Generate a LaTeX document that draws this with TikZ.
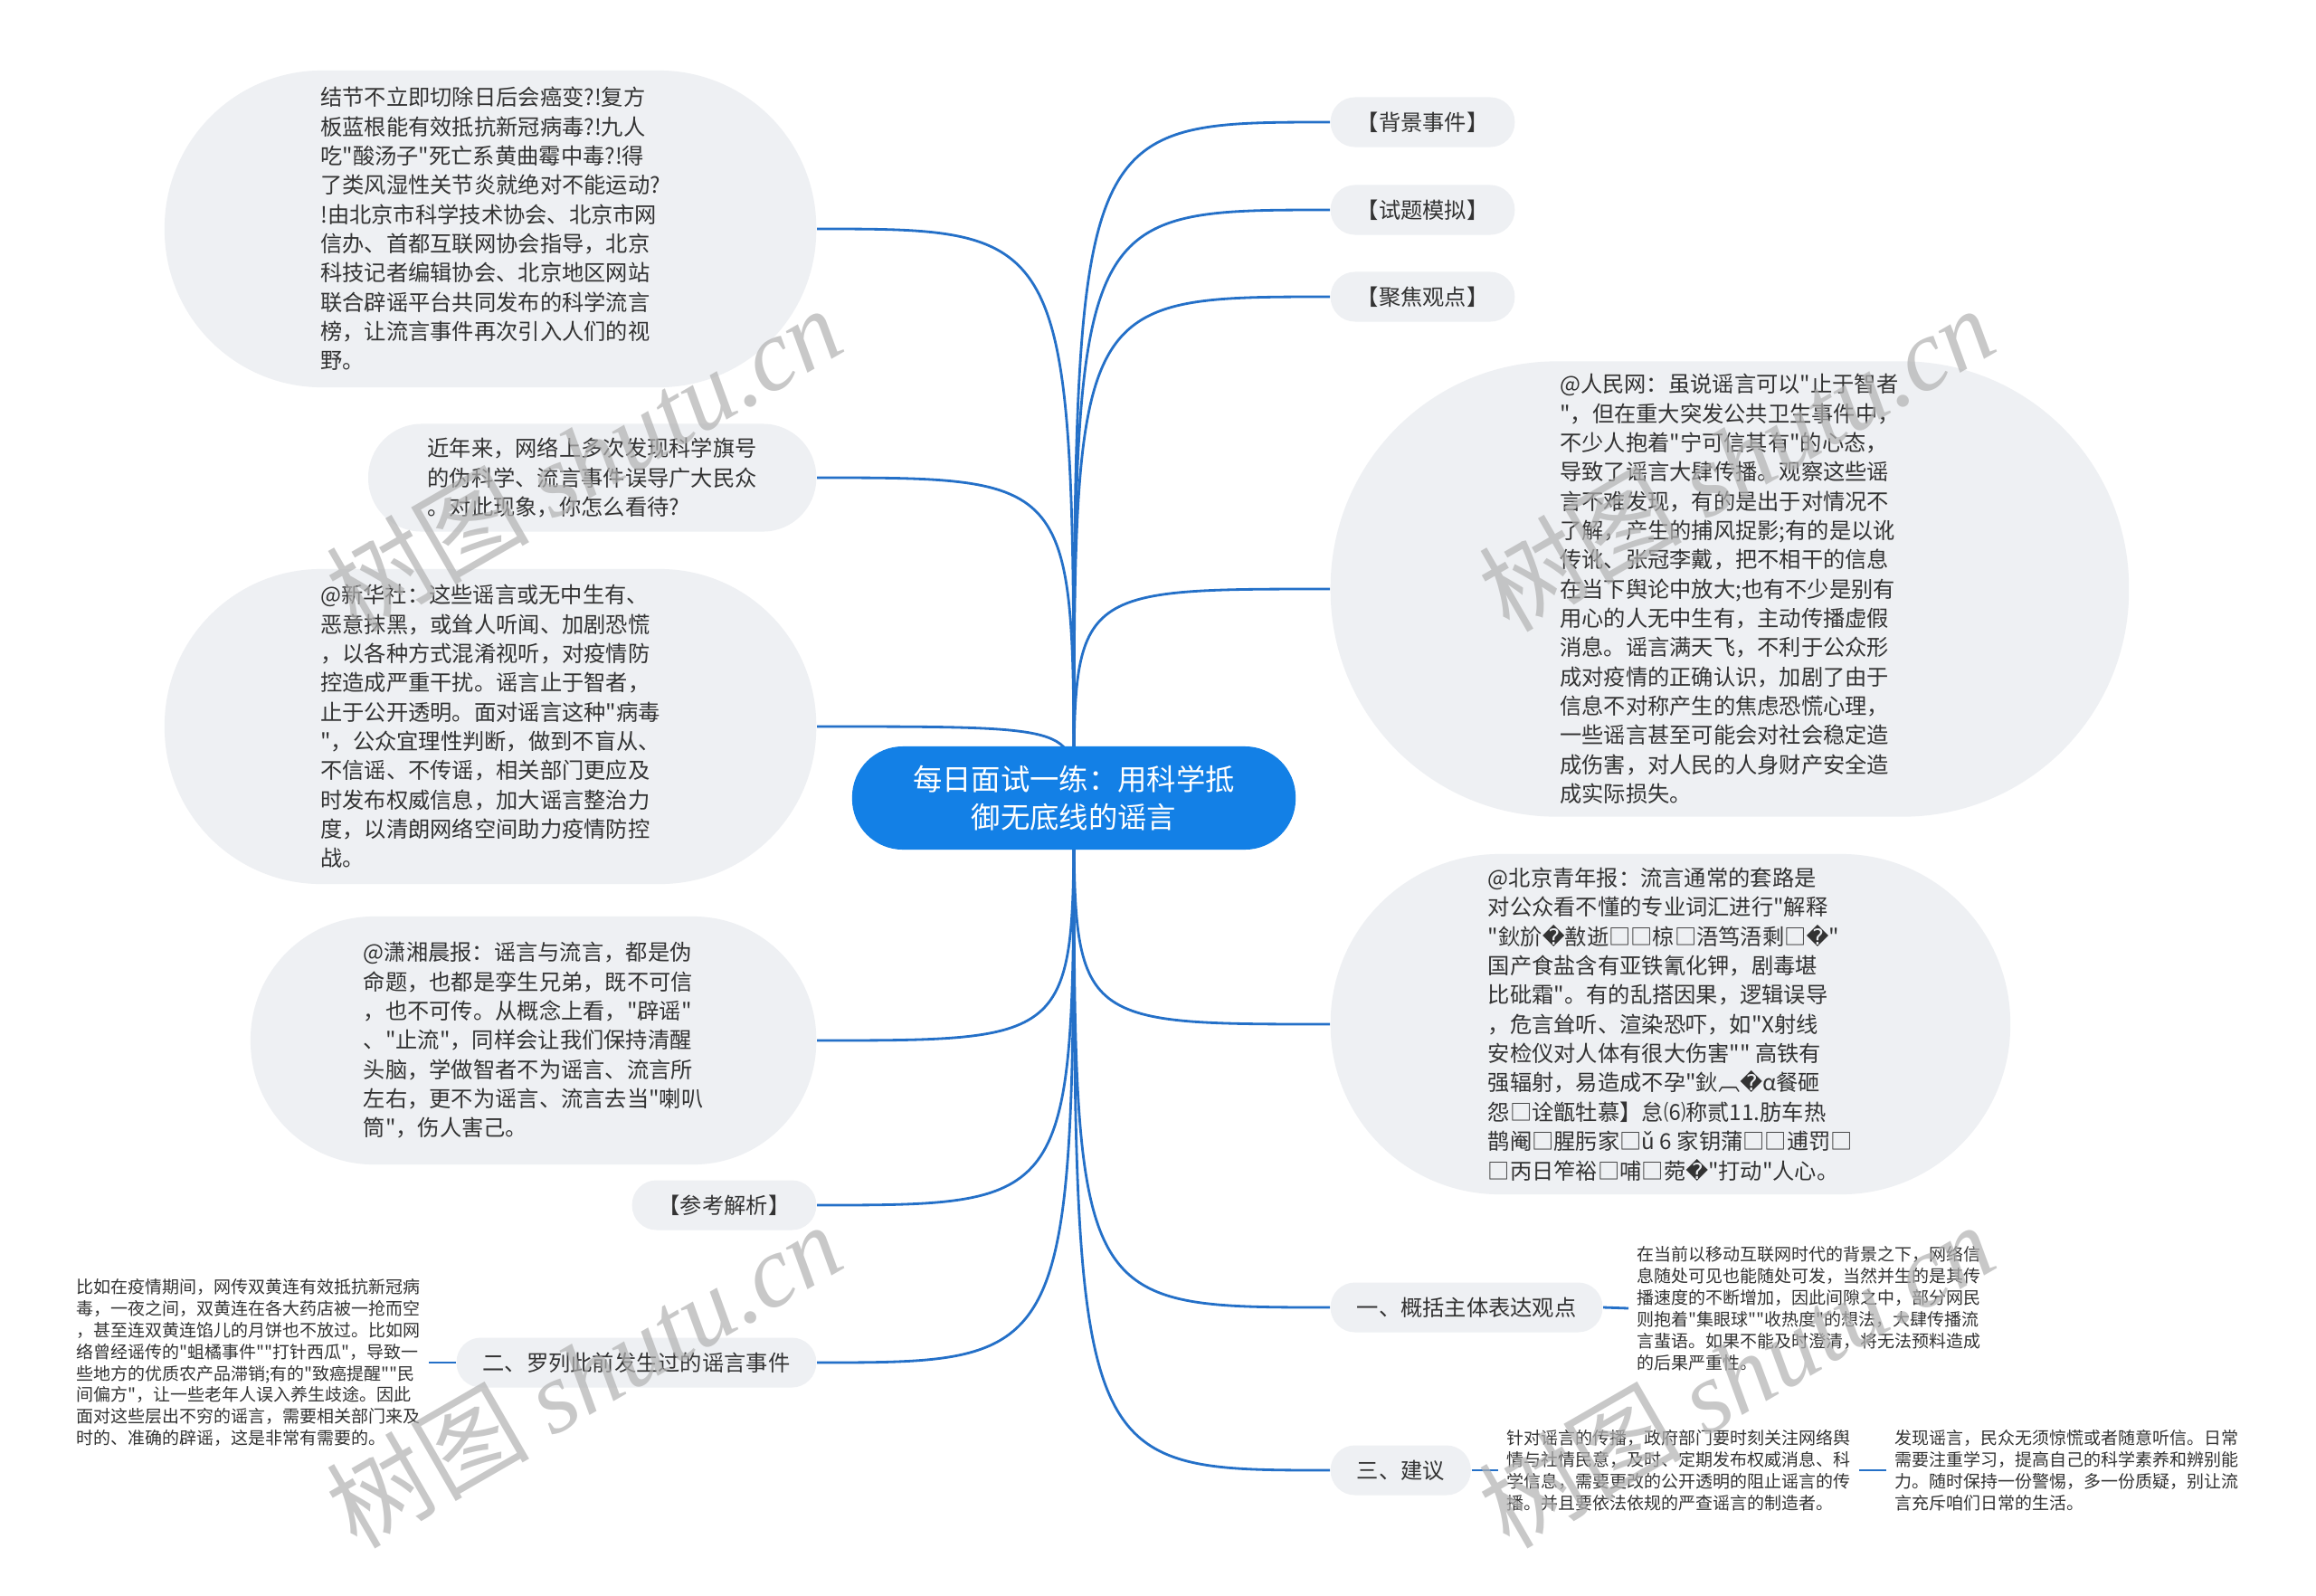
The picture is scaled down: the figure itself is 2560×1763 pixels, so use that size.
\documentclass[tikz,border=0pt]{standalone}
\usepackage{fontspec}
\setmainfont{Noto Sans CJK SC}[Ligatures=TeXOff]
\newfontfamily\djv{DejaVu Sans}
\newfontfamily\wmserif{Liberation Serif}
\usetikzlibrary{backgrounds}

\definecolor{rootblue}{HTML}{1380E6}
\definecolor{linkblue}{HTML}{2470C8}
\definecolor{bubblebg}{HTML}{EEF0F3}
\definecolor{textdark}{HTML}{333333}
\newcommand\qbox{{\djv\char"FFFD}}

\tikzset{
  bubble/.style n args={3}{fill=bubblebg, text=textdark, align=left, inner sep=0pt,
    minimum width=#1, minimum height=#2, rounded corners=#3,
    font=\fontsize{6.9}{9.2}\selectfont},
  tag/.style={fill=bubblebg, text=textdark, inner xsep=0.29cm, inner ysep=0pt,
    minimum height=0.55cm, rounded corners=0.27cm,
    font=\fontsize{6.9}{9.2}\selectfont},
  note/.style={text=textdark, align=left, inner sep=0.09cm,
    font=\fontsize{5.4}{6.8}\selectfont},
  link/.style={draw=linkblue, line width=0.8pt},
  wmark/.style={text=black!30, text opacity=0.7, rotate=30,
    font=\fontsize{32}{32}\selectfont}
}

\begin{document}
\begin{tikzpicture}[x=0.01cm, y=-0.01cm]
        \useasboundingbox (0,0) rectangle (2560,1763);

        % centre
        \node[fill=rootblue, text=white, align=center, inner sep=0pt,
        minimum width=4.9cm, minimum height=1.14cm, rounded corners=0.56cm,
        font=\fontsize{9.2}{12}\selectfont] (root) at (1187,882)
        {每日面试一练：用科学抵\\御无底线的谣言};

        % right side
        \node[tag, anchor=west] (bg) at (1470,135) {【背景事件】};
        \node[tag, anchor=west] (sim) at (1470,232) {【试题模拟】};
        \node[tag, anchor=west] (focus) at (1470,328) {【聚焦观点】};
        \node[bubble={8.82cm}{5.03cm}{2.5cm}, anchor=west] (rmw) at (1470,651)
        {@人民网：虽说谣言可以"止于智者\\"，但在重大突发公共卫生事件中，\\不少人抱着"宁可信其有"的心态，\\导致了谣言大肆传播。观察这些谣\\言不难发现，有的是出于对情况不\\了解，产生的捕风捉影;有的是以讹\\传讹、张冠李戴，把不相干的信息\\在当下舆论中放大;也有不少是别有\\用心的人无中生有，主动传播虚假\\消息。谣言满天飞，不利于公众形\\成对疫情的正确认识，加剧了由于\\信息不对称产生的焦虑恐慌心理，\\一些谣言甚至可能会对社会稳定造\\成伤害，对人民的人身财产安全造\\成实际损失。};
        \node[bubble={7.51cm}{3.76cm}{1.87cm}, anchor=west] (bjqn) at (1470,1132)
        {@北京青年报：流言通常的套路是\\对公众看不懂的专业词汇进行"解释\\"鈥斺\qbox{}敾逝□□椋□浯笃浯剩□\qbox{}"\\国产食盐含有亚铁氰化钾，剧毒堪\\比砒霜"。有的乱搭因果，逻辑误导\\，危言耸听、渲染恐吓，如"X射线\\安检仪对人体有很大伤害"" 高铁有\\强辐射，易造成不孕"鈥︹\qbox{}α餐砸\\怨□诠甑牡慕】怠⑹称贰11.肪车热\\鹊阉□腥肟家□ǔ 6 家钥蒲□□逋罚□\\□丙日笮裕□哺□菀\qbox{}"打动"人心。};
        \node[tag, anchor=west] (one) at (1470,1445) {一、概括主体表达观点};
        \node[note, anchor=west] (onet) at (1800,1446)
        {在当前以移动互联网时代的背景之下，网络信\\息随处可见也能随处可发，当然并生的是其传\\播速度的不断增加，因此间隙之中，部分网民\\则抱着"集眼球""收热度"的想法，大肆传播流\\言蜚语。如果不能及时澄清，将无法预料造成\\的后果严重性。};
        \node[tag, anchor=west] (three) at (1470,1625) {三、建议};
        \node[note, anchor=west] (threea) at (1656,1625)
        {针对谣言的传播，政府部门要时刻关注网络舆\\情与社情民意，及时、定期发布权威消息、科\\学信息，需要更改的公开透明的阻止谣言的传\\播。并且要依法依规的严查谣言的制造者。};
        \node[note, anchor=west] (threeb) at (2085,1625)
        {发现谣言，民众无须惊慌或者随意听信。日常\\需要注重学习，提高自己的科学素养和辨别能\\力。随时保持一份警惕，多一份质疑，别让流\\言充斥咱们日常的生活。};

        % left side
        \node[bubble={7.2cm}{3.5cm}{1.74cm}, anchor=east] (tl) at (903,253)
        {结节不立即切除日后会癌变?!复方\\板蓝根能有效抵抗新冠病毒?!九人\\吃"酸汤子"死亡系黄曲霉中毒?!得\\了类风湿性关节炎就绝对不能运动?\\!由北京市科学技术协会、北京市网\\信办、首都互联网协会指导，北京\\科技记者编辑协会、北京地区网站\\联合辟谣平台共同发布的科学流言\\榜，让流言事件再次引入人们的视\\野。};
        \node[bubble={4.95cm}{1.19cm}{0.59cm}, anchor=east] (q) at (903,528)
        {近年来，网络上多次发现科学旗号\\的伪科学、流言事件误导广大民众\\。对此现象，你怎么看待?};
        \node[bubble={7.2cm}{3.48cm}{1.73cm}, anchor=east] (xh) at (903,803)
        {@新华社：这些谣言或无中生有、\\恶意抹黑，或耸人听闻、加剧恐慌\\，以各种方式混淆视听，对疫情防\\控造成严重干扰。谣言止于智者，\\止于公开透明。面对谣言这种"病毒\\"，公众宜理性判断，做到不盲从、\\不信谣、不传谣，相关部门更应及\\时发布权威信息，加大谣言整治力\\度，以清朗网络空间助力疫情防控\\战。};
        \node[bubble={6.25cm}{2.74cm}{1.36cm}, anchor=east] (xx) at (903,1150)
        {@潇湘晨报：谣言与流言，都是伪\\命题，也都是孪生兄弟，既不可信\\，也不可传。从概念上看，"辟谣"\\、"止流"，同样会让我们保持清醒\\头脑，学做智者不为谣言、流言所\\左右，更不为谣言、流言去当"喇叭\\筒"，伤人害己。};
        \node[tag, anchor=east] (ref) at (903,1332) {【参考解析】};
        \node[tag, anchor=east] (two) at (903,1506) {二、罗列此前发生过的谣言事件};
        \node[note, anchor=east] (twot) at (474,1506)
        {比如在疫情期间，网传双黄连有效抵抗新冠病\\毒，一夜之间，双黄连在各大药店被一抢而空\\，甚至连双黄连馅儿的月饼也不放过。比如网\\络曾经谣传的"蛆橘事件""打针西瓜"，导致一\\些地方的优质农产品滞销;有的"致癌提醒""民\\间偏方"，让一些老年人误入养生歧途。因此\\面对这些层出不穷的谣言，需要相关部门来及\\时的、准确的辟谣，这是非常有需要的。};

        % connectors behind the nodes
        \begin{scope}[on background layer]
        \fill[white] (0,0) rectangle (2560,1763);
        \foreach \t in {bg,sim,focus,rmw,bjqn,one,three}
        \draw[link] (root.center) .. controls (root.center |- \t.west) .. (\t.west);
        \foreach \t in {tl,q,xh,xx,ref,two}
        \draw[link] (root.center) .. controls (root.center |- \t.east) .. (\t.east);
        \draw[link] (one.east) -- (onet.west);
        \draw[link] (three.east) -- (threea.west);
        \draw[link] (threea.east) -- (threeb.west);
        \draw[link] (two.west) -- (twot.east);
        \end{scope}

        % watermark
        \node[wmark] (wm1) at (645,506) {树图 {\wmserif\itshape shutu.cn}};
        \node[wmark] (wm2) at (1919,506) {树图 {\wmserif\itshape shutu.cn}};
        \node[wmark] (wm3) at (645,1519) {树图 {\wmserif\itshape shutu.cn}};
        \node[wmark] (wm4) at (1919,1519) {树图 {\wmserif\itshape shutu.cn}};
      \end{tikzpicture}
\end{document}
